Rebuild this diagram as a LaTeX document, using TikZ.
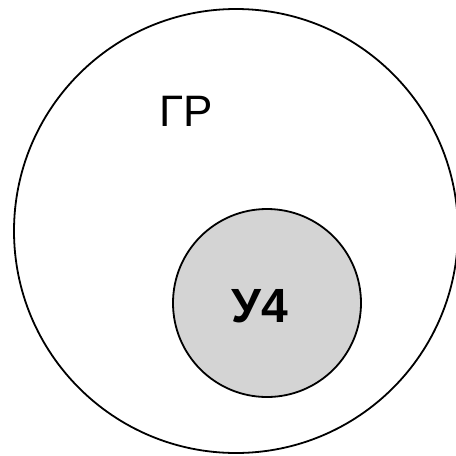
\documentclass[tikz,border=0pt]{standalone}
\usepackage{fontspec}
\setmainfont{Liberation Sans}
\begin{document}
\begin{tikzpicture}[x=1pt,y=-1pt,
  outer/.style={circle,draw=black,line width=1.8pt,minimum size=444pt,inner sep=0pt},
  inner/.style={circle,draw=black,line width=1.8pt,fill=black!17,minimum size=188pt,inner sep=0pt},
  lbl/.style={font=\fontsize{44}{48}\selectfont}]
\useasboundingbox (0,0) rectangle (456,456);
\node[outer] (gr) at (236,231) {};
\node[inner] (u4) at (267,303) {};
\node[lbl] (grlbl) at (186,111) {ГР};
\node[lbl,font=\fontsize{48}{52}\selectfont\bfseries] (u4lbl) at (260,306) {У4};
\end{tikzpicture}
\end{document}
